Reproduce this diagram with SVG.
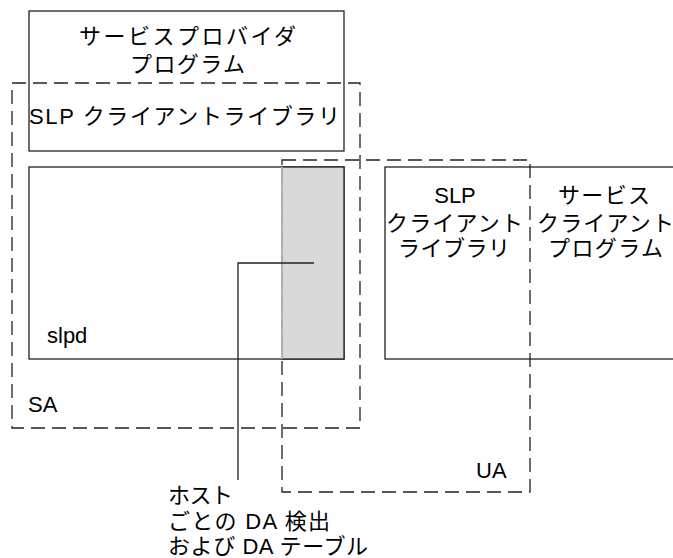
<svg xmlns="http://www.w3.org/2000/svg" width="673" height="558" viewBox="0 0 673 558">
<style>
.box{fill:#fff;stroke:#222;stroke-width:1.3}
.dash{fill:none;stroke:#222;stroke-width:1.3;stroke-dasharray:14 7}
.t{font-family:"Liberation Sans","Noto Sans CJK JP",sans-serif;font-size:22px;fill:#000}
.m{text-anchor:middle}
.ln{stroke:#222;stroke-width:1.3;fill:none}
</style>
<rect width="673" height="558" fill="#fff"/>
<g id="provider">
<rect class="box" x="29" y="11" width="315" height="140"/>
<text class="t" x="79" y="44" textLength="217" lengthAdjust="spacing">サービスプロバイダ</text>
<text class="t" x="130" y="72" textLength="115" lengthAdjust="spacing">プログラム</text>
<text class="t" x="29" y="124" textLength="311" lengthAdjust="spacing">SLP クライアントライブラリ</text>
</g>
<g id="slpd">
<rect class="box" x="29" y="167" width="315" height="192"/>
<text class="t" x="47" y="343">slpd</text>
</g>
<g id="client">
<rect class="box" x="385" y="167" width="300" height="192"/>
<text class="t m" x="455" y="203">SLP</text>
<text class="t" x="386" y="231" textLength="137" lengthAdjust="spacing">クライアント</text>
<text class="t" x="398" y="256" textLength="112" lengthAdjust="spacing">ライブラリ</text>
<text class="t" x="558" y="203" textLength="92" lengthAdjust="spacing">サービス</text>
<text class="t" x="537" y="231" textLength="137" lengthAdjust="spacing">クライアント</text>
<text class="t" x="548" y="256" textLength="115" lengthAdjust="spacing">プログラム</text>
</g>
<g id="ua">
<rect class="dash" x="282" y="160" width="248" height="332"/>
<text class="t" x="476" y="478">UA</text>
</g>
<g id="da-table">
<rect x="282" y="167" width="62" height="192" fill="#d9d9d9" stroke="#222" stroke-width="1.3"/>
<line x1="282" y1="167" x2="282" y2="359" stroke="#d9d9d9" stroke-width="1.4"/>
<line x1="282" y1="167" x2="282" y2="359" stroke="#aaa" stroke-width="1" stroke-dasharray="14 7"/>
</g>
<g id="sa">
<rect class="dash" x="12" y="83" width="348" height="345"/>
<text class="t" x="28" y="412">SA</text>
</g>
<g id="connectors">
<polyline class="ln" points="314,263 238,263 238,480"/>
</g>
<g id="label">
<text class="t" x="168" y="503" textLength="65" lengthAdjust="spacing">ホスト</text>
<text class="t" x="168" y="529" textLength="162" lengthAdjust="spacing">ごとの DA 検出</text>
<text class="t" x="168" y="554" textLength="200" lengthAdjust="spacing">および DA テーブル</text>
</g>
</svg>
